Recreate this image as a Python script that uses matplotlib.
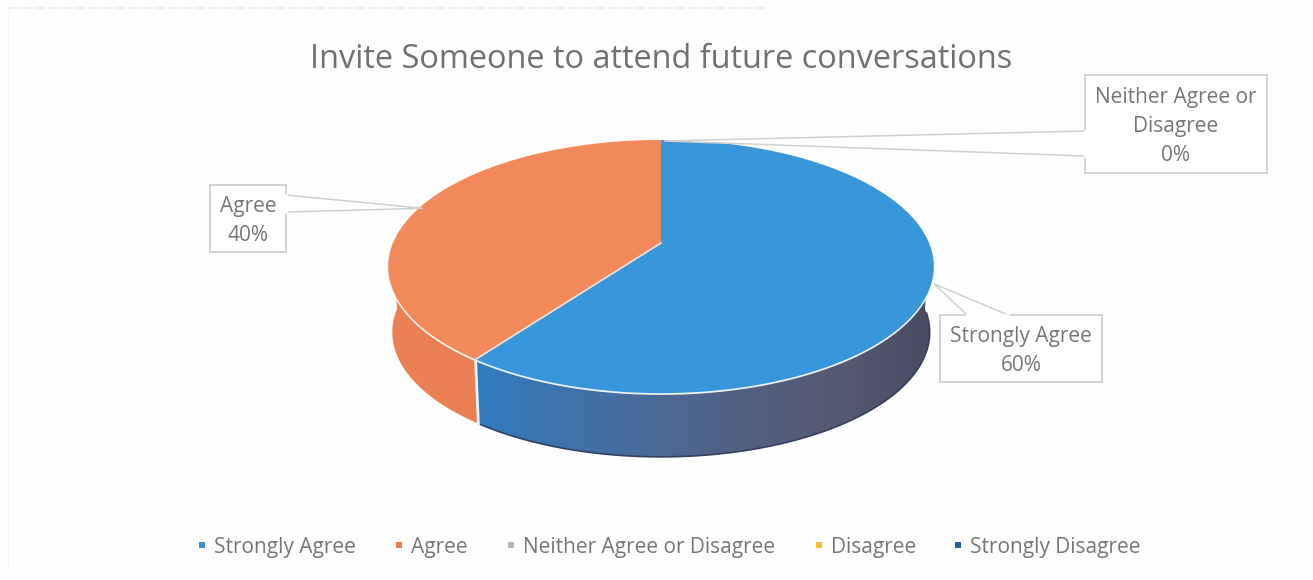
import numpy as np
import matplotlib
matplotlib.use("Agg")
import matplotlib.pyplot as plt
from matplotlib.colors import LinearSegmentedColormap
from matplotlib.patches import Polygon, Rectangle

plt.rcParams["font.family"] = ["Open Sans", "DejaVu Sans"]

# du lieu doc tu hinh
categories = ["Strongly Agree", "Agree", "Neither Agree or Disagree", "Disagree", "Strongly Disagree"]
values = [60, 40, 0, 0, 0]
legend_colors = ["#3f8fc9", "#ed7d4c", "#b5b5b5", "#f5bd2a", "#2a6099"]
title = "Invite Someone to attend future conversations"

TEXT = "#767676"
EDGE = "#cfcfcf"

# chieu phoi canh cua hinh tron len anh (pixel)
CX, CY = 661, 243
A, B, K = 268, 122.2, 0.186
DEPTH = 66


def project(deg, scale=1.0, dy=0):
    a = np.radians(deg)
    u, v = np.sin(a), np.cos(a)
    d = 1 + K * v
    return CX + scale * A * u / d, CY + dy - scale * B * v / d


def arc(start, stop, scale=1.0, dy=0):
    t = np.linspace(start, stop, max(int(abs(stop - start) * 2), 2))
    x, y = project(t, scale, dy)
    return np.column_stack([x, y])


fig = plt.figure(figsize=(13.13, 5.8), dpi=100, facecolor="#fefefe")
ax = fig.add_axes([0, 0, 1, 1])
ax.axis("off")

angles = np.cumsum([0] + values) * 3.6
mids = (angles[:-1] + angles[1:]) / 2

# thanh ben: to mau chuyen theo truc x, cat theo hinh cua thanh ben
wall = np.vstack([arc(90, angles[1]), arc(90, angles[1], 0.985, DEPTH)[::-1]])
blue_wall = LinearSegmentedColormap.from_list("wall", ["#2f7cc0", "#3f72ab", "#4b6a96", "#545f80", "#565a72", "#474a60"])
gradient = np.linspace(0, 1, 256).reshape(1, -1)
img = ax.imshow(gradient, cmap=blue_wall, extent=[wall[:, 0].min(), wall[:, 0].max(), wall[:, 1].max(), wall[:, 1].min()],
                aspect="auto", zorder=2)
clip = Polygon(wall, transform=ax.transData, fc="none", ec="none")
ax.add_patch(clip)
img.set_clip_path(clip)

# vien toi o mep duoi cua thanh ben
edge = arc(92, angles[1], 0.985, DEPTH)
ax.plot(edge[:, 0], edge[:, 1], color="#34405c", lw=1.2, zorder=2)

top = arc(angles[1], 270)
bottom = arc(angles[1], 270, 0.985, DEPTH)[::-1]
ax.add_patch(Polygon(np.vstack([top, bottom]), fc="#e97f52", ec="none", zorder=2))

ax.set_xlim(0, 1313)
ax.set_ylim(580, 0)

# duong vien sang giua mat tren va thanh ben
rim = arc(90, 270)
ax.plot(rim[:, 0], rim[:, 1] + 0.6, color="#f1f4f6", lw=1.7, zorder=3)
x0, y0 = project(angles[1])
x1, y1 = project(angles[1], 0.985, DEPTH)
ax.plot([x0, x1], [y0, y1], color="#eef3f7", lw=2, zorder=3)

# mat tren
top_colors = ["#3797da", "#f2895b"]
for i, c in enumerate(top_colors):
    pts = np.vstack([[CX, CY], arc(angles[i], angles[i + 1])])
    ax.add_patch(Polygon(pts, fc=c, ec="none", zorder=4))
sep = np.array(project(angles[1]))
ax.plot([CX, sep[0]], [CY, sep[1]], color="#f6e3d8", lw=1.2, zorder=4)

# nhan chu thich dang callout
boxes = [
    (940, 315, 1102, 382, [(1008, 315), (967, 315)], "Strongly Agree\n60%", mids[0]),
    (210, 185, 286, 252, [(286, 195), (286, 212)], "Agree\n40%", mids[1]),
    (1085, 75, 1267, 173, [(1085, 131), (1085, 156)], "Neither Agree or\nDisagree\n0%", angles[2]),
]
for x_l, y_t, x_r, y_b, base, label, deg in boxes:
    tip = (float(project(deg)[0]) + 3, float(project(deg)[1]) + 1)
    ax.add_patch(Rectangle((x_l, y_t), x_r - x_l, y_b - y_t, fc="white", ec=EDGE, lw=1.3, zorder=5))
    ax.add_patch(Polygon([base[0], tip, base[1]], fc="white", ec=EDGE, lw=1.1, zorder=5, closed=False))
    ax.plot([base[0][0], base[1][0]], [base[0][1], base[1][1]], color="white", lw=2, zorder=5)
    ax.text((x_l + x_r) / 2, (y_t + y_b) / 2 + 2.5, label, ha="center", va="center", fontsize=15,
            color=TEXT, linespacing=1.52, zorder=6)

ax.text(661, 60, title, ha="center", va="center", fontsize=23.4, color="#707070")

# chu giai
legend_x = [202, 399, 511, 819, 958]
for x, name, c in zip(legend_x, categories, legend_colors):
    ax.add_patch(Rectangle((x - 3, 542), 6, 6, fc=c, ec="none"))
    ax.text(x + 12, 548, name, ha="left", va="center", fontsize=15, color=TEXT)

# vet quet mo o mep tren va mep trai
ax.plot([8, 770], [8, 8], color="#ececec", lw=1.2, ls=(0, (6, 2)))
ax.plot([8, 8], [8, 570], color="#f5f5f5", lw=1)

fig.savefig("out.png", dpi=100, facecolor=fig.get_facecolor())
plt.close(fig)
